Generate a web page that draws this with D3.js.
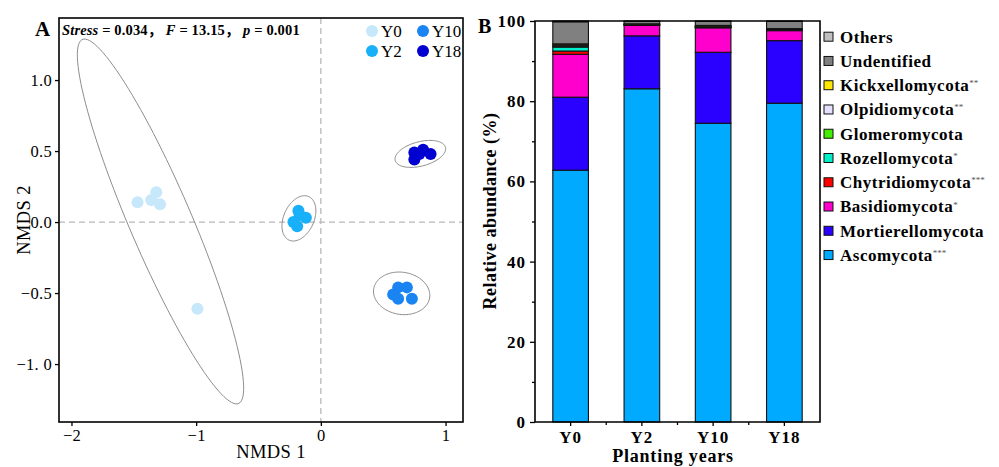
<!DOCTYPE html>
<html>
<head>
<meta charset="utf-8">
<script src="https://cdn.jsdelivr.net/npm/d3@7"></script>
<style>
  body { margin: 0; background: #fff; }
  svg { font-family: "Liberation Serif", "Times New Roman", serif; }
</style>
</head>
<body>
<div id="chart"></div>
<script>
// ---- panel A: NMDS scores ----
var groups = ["Y0", "Y2", "Y10", "Y18"];
var groupColors = ["#c6e8fa", "#18b0f8", "#1a84f2", "#0000d0"];
var nmds1 = {
  "Y0":  [-1.47, -1.36, -1.32, -1.29, -0.99],
  "Y2":  [-0.18, -0.17, -0.12, -0.22, -0.19],
  "Y10": [0.62, 0.69, 0.58, 0.62, 0.73],
  "Y18": [0.75, 0.82, 0.88, 0.75, 0.79]
};
var nmds2 = {
  "Y0":  [0.14, 0.155, 0.21, 0.125, -0.61],
  "Y2":  [0.08, 0.05, 0.03, 0.0, -0.03],
  "Y10": [-0.46, -0.46, -0.51, -0.54, -0.54],
  "Y18": [0.49, 0.51, 0.48, 0.44, 0.48]
};
var xTicksA = [-2, -1, 0, 1];
var yTicksA = [-1.0, -0.5, 0.0, 0.5, 1.0];
var yTickLabelsA = ["\u22121. 0", "\u22120.5", "0.0", "0.5", "1.0"];

// ---- panel B: relative abundance (%) ----
var years = ["Y0", "Y2", "Y10", "Y18"];
var phyla = ["Ascomycota", "Mortierellomycota", "Basidiomycota", "Chytridiomycota",
             "Rozellomycota", "Glomeromycota", "Olpidiomycota", "Kickxellomycota",
             "Undentified", "Others"];
var phylumStars = ["***", "", "*", "***", "*", "", "**", "**", "", ""];
var phylumColors = ["#00aaff", "#2a00ff", "#ff00cc", "#ff0000", "#00eec8",
                    "#44ee00", "#e6e0ff", "#ffe800", "#808080", "#c0c0c0"];
var abundance = {
  "Y0":  [62.8, 18.2, 10.7, 0.8, 1.0, 0.2, 0.3, 0.3, 5.5, 0.2],
  "Y2":  [83.1, 13.2, 2.6, 0.1, 0.1, 0.0, 0.1, 0.1, 0.6, 0.1],
  "Y10": [74.5, 17.7, 6.1, 0.1, 0.1, 0.1, 0.1, 0.2, 1.0, 0.1],
  "Y18": [79.5, 15.6, 2.5, 0.1, 0.1, 0.1, 0.1, 0.1, 1.8, 0.1]
};
var yTicksB = [0, 20, 40, 60, 80, 100];

var W = 999, H = 467;
var svg = d3.select("#chart").append("svg")
    .attr("width", W)
    .attr("height", H);

// ================= panel A =================
var A = {left: 59, right: 463, top: 18, bottom: 422};
var x = d3.scaleLinear().domain([-2.1, 1.14]).range([A.left, A.right]);
var y = d3.scaleLinear().domain([-1.408, 1.437]).range([A.bottom, A.top]);

var gA = svg.append("g");

// zero lines
gA.append("line")
    .attr("x1", x(0)).attr("x2", x(0))
    .attr("y1", A.top).attr("y2", A.bottom)
    .attr("stroke", "#b8b8b8").attr("stroke-width", 1.3)
    .attr("stroke-dasharray", "6,4");
gA.append("line")
    .attr("x1", A.left).attr("x2", A.right)
    .attr("y1", y(0)).attr("y2", y(0))
    .attr("stroke", "#b8b8b8").attr("stroke-width", 1.3)
    .attr("stroke-dasharray", "6,4");

// 95% normal confidence ellipses from the points
function ellipse(xs, ys) {
  var n = xs.length;
  var mx = d3.mean(xs), my = d3.mean(ys);
  var sxx = 0, syy = 0, sxy = 0;
  for (var i = 0; i < n; i++) {
    sxx += (xs[i] - mx) * (xs[i] - mx);
    syy += (ys[i] - my) * (ys[i] - my);
    sxy += (xs[i] - mx) * (ys[i] - my);
  }
  sxx /= n - 1; syy /= n - 1; sxy /= n - 1;
  var tr = sxx + syy, det = sxx * syy - sxy * sxy;
  var disc = Math.sqrt(tr * tr / 4 - det);
  var l1 = tr / 2 + disc, l2 = tr / 2 - disc;
  var v1 = Math.abs(sxy) > 1e-12 ? [sxy, l1 - sxx] : (sxx >= syy ? [1, 0] : [0, 1]);
  var len = Math.hypot(v1[0], v1[1]);
  v1 = [v1[0] / len, v1[1] / len];
  var v2 = [-v1[1], v1[0]];
  var df2 = n - 1;
  var fq = (df2 / 2) * (Math.pow(0.05, -2 / df2) - 1); // F(0.95; 2, n-1)
  var r = Math.sqrt(2 * fq);
  var a = r * Math.sqrt(l1), b = r * Math.sqrt(Math.max(l2, 0));
  return d3.range(0, 120).map(function(k) {
    var t = k / 120 * 2 * Math.PI;
    return [mx + a * Math.cos(t) * v1[0] + b * Math.sin(t) * v2[0],
            my + a * Math.cos(t) * v1[1] + b * Math.sin(t) * v2[1]];
  });
}

var line = d3.line()
    .x(function(d) { return x(d[0]); })
    .y(function(d) { return y(d[1]); })
    .curve(d3.curveLinearClosed);

groups.forEach(function(g, gi) {
  gA.append("path")
      .attr("d", line(ellipse(nmds1[g], nmds2[g])))
      .attr("fill", "none")
      .attr("stroke", "#808080")
      .attr("stroke-width", 0.9);
});

groups.forEach(function(g, gi) {
  gA.selectAll(null)
      .data(nmds1[g].map(function(v, i) { return [v, nmds2[g][i]]; }))
      .enter().append("circle")
      .attr("cx", function(d) { return x(d[0]); })
      .attr("cy", function(d) { return y(d[1]); })
      .attr("r", 6)
      .attr("fill", groupColors[gi]);
});

// frame
gA.append("rect")
    .attr("x", A.left).attr("y", A.top)
    .attr("width", A.right - A.left).attr("height", A.bottom - A.top)
    .attr("fill", "none").attr("stroke", "#000").attr("stroke-width", 1.6);

var axA = gA.append("g")
    .attr("transform", "translate(0," + A.bottom + ")")
    .call(d3.axisBottom(x).tickValues(xTicksA).tickSize(4).tickPadding(3)
      .tickFormat(function(d) { return d < 0 ? "\u2212" + (-d) : d; }));
var ayA = gA.append("g")
    .attr("transform", "translate(" + A.left + ",0)")
    .call(d3.axisLeft(y).tickValues(yTicksA).tickSize(4).tickPadding(3)
      .tickFormat(function(d, i) { return yTickLabelsA[i]; }));
[axA, ayA].forEach(function(ax) {
  ax.select(".domain").remove();
  ax.selectAll("line").attr("stroke", "#000").attr("stroke-width", 1.3);
  ax.selectAll("text").attr("font-family", "Liberation Serif").attr("font-size", 16.5)
    .attr("letter-spacing", 0.3).attr("fill", "#000");
});

gA.append("text")
    .attr("x", 271).attr("y", 458)
    .attr("text-anchor", "middle").attr("font-size", 18.5).attr("letter-spacing", 0.4)
    .text("NMDS 1");
gA.append("text")
    .attr("transform", "translate(30," + ((A.top + A.bottom) / 2) + ") rotate(-90)")
    .attr("text-anchor", "middle").attr("font-size", 18.5).attr("letter-spacing", 0.4)
    .text("NMDS 2");

gA.append("text")
    .attr("x", 35).attr("y", 36)
    .attr("font-size", 21).attr("font-weight", "bold")
    .text("A");

var stat = gA.append("text")
    .attr("x", 62).attr("y", 35)
    .attr("font-size", 14.5).attr("letter-spacing", 0.15).attr("font-weight", "bold");
stat.append("tspan").attr("font-style", "italic").text("Stress");
stat.append("tspan").text(" = 0.034");
stat.append("tspan").attr("font-family", "Noto Sans CJK SC").text("\uFF0C ");
stat.append("tspan").attr("font-style", "italic").text("F");
stat.append("tspan").text(" = 13.15");
stat.append("tspan").attr("font-family", "Noto Sans CJK SC").text("\uFF0C ");
stat.append("tspan").attr("font-style", "italic").text("p");
stat.append("tspan").text(" = 0.001");

// legend A
var legA = gA.selectAll("g.lega")
    .data(groups)
    .enter().append("g")
    .attr("class", "lega")
    .attr("transform", function(d, i) {
      var col = (i === 0 || i === 1) ? 0 : 1;
      var row = (i === 0 || i === 2) ? 0 : 1;
      return "translate(" + (372 + col * 51) + "," + (31 + row * 20) + ")";
    });
legA.append("circle").attr("r", 6)
    .attr("fill", function(d, i) { return groupColors[i]; });
legA.append("text")
    .attr("x", 9).attr("dy", "0.35em")
    .attr("font-size", 17)
    .text(function(d) { return d; });

// ================= panel B =================
var B = {left: 535, right: 820, top: 21, bottom: 422};
var xb = d3.scaleBand().domain(years).range([B.left, B.right])
    .paddingInner(0.5).paddingOuter(0.25);
var yb = d3.scaleLinear().domain([0, 100]).range([B.bottom, B.top]);

var gB = svg.append("g");

var stackData = years.map(function(yr) {
  var o = {year: yr};
  phyla.forEach(function(p, i) { o[p] = abundance[yr][i]; });
  return o;
});
var series = d3.stack().keys(phyla)(stackData);

gB.selectAll("g.series")
    .data(series)
    .enter().append("g")
    .attr("class", "series")
    .attr("fill", function(d, i) { return phylumColors[i]; })
  .selectAll("rect")
    .data(function(d) { return d; })
    .enter().append("rect")
    .attr("x", function(d) { return xb(d.data.year); })
    .attr("width", xb.bandwidth())
    .attr("y", function(d) { return yb(d[1]); })
    .attr("height", function(d) { return yb(d[0]) - yb(d[1]); })
    .attr("stroke", "#111")
    .attr("stroke-width", 1.1);

// frame lines
gB.append("path")
    .attr("d", "M" + B.left + "," + B.top + "H" + B.right + "V" + B.bottom + "H" + B.left + "Z")
    .attr("fill", "none").attr("stroke", "#000").attr("stroke-width", 1.6);

var ayB = gB.append("g")
    .attr("transform", "translate(" + B.left + ",0)")
    .call(d3.axisLeft(yb).tickValues(yTicksB).tickSize(5).tickPadding(4));
gB.append("g")
    .attr("transform", "translate(" + B.left + ",0)")
    .call(d3.axisLeft(yb).tickValues([10, 30, 50, 70, 90]).tickSize(3).tickFormat(""))
    .call(function(g) { g.select(".domain").remove(); g.selectAll("line").attr("stroke-width", 1.3); });
var axB = gB.append("g")
    .attr("transform", "translate(0," + B.bottom + ")")
    .call(d3.axisBottom(xb).tickSize(4).tickPadding(5));
// minor ticks between bars
gB.selectAll("line.minorx")
    .data(years.slice(1))
    .enter().append("line")
    .attr("class", "minorx")
    .attr("x1", function(d) { return xb(d) - xb.step() * xb.paddingInner() / 2; })
    .attr("x2", function(d) { return xb(d) - xb.step() * xb.paddingInner() / 2; })
    .attr("y1", B.bottom).attr("y2", B.bottom + 3)
    .attr("stroke", "#000").attr("stroke-width", 1.3);
[ayB, axB].forEach(function(ax) {
  ax.select(".domain").remove();
  ax.selectAll("line").attr("stroke", "#000").attr("stroke-width", 1.3);
  ax.selectAll("text").attr("font-family", "Liberation Serif").attr("font-size", 17)
    .attr("letter-spacing", 1).attr("font-weight", "bold").attr("fill", "#000");
});

gB.append("text")
    .attr("x", 673).attr("y", 462)
    .attr("text-anchor", "middle").attr("font-size", 18).attr("letter-spacing", 0.8)
    .attr("font-weight", "bold")
    .text("Planting years");
gB.append("text")
    .attr("transform", "translate(496,211) rotate(-90)")
    .attr("text-anchor", "middle").attr("font-size", 18).attr("letter-spacing", 0.5)
    .attr("font-weight", "bold")
    .text("Relative abundance (%)");

gB.append("text")
    .attr("x", 478).attr("y", 33)
    .attr("font-size", 20).attr("font-weight", "bold")
    .text("B");

// legend B (top to bottom: reverse of stack order)
var legOrder = d3.range(phyla.length).reverse();
var legB = gB.selectAll("g.legb")
    .data(legOrder)
    .enter().append("g")
    .attr("class", "legb")
    .attr("transform", function(d, i) { return "translate(824," + (36.7 + i * 24.26) + ")"; });
legB.append("rect")
    .attr("x", 0).attr("y", -4.5)
    .attr("width", 9).attr("height", 9)
    .attr("fill", function(d) { return phylumColors[d]; })
    .attr("stroke", "#111").attr("stroke-width", 1);
var legT = legB.append("text")
    .attr("x", 16).attr("dy", "0.35em")
    .attr("font-size", 17).attr("letter-spacing", 0.5).attr("font-weight", "bold");
legT.append("tspan").text(function(d) { return phyla[d]; });
legT.append("tspan")
    .attr("dy", "-0.55em")
    .attr("font-size", 9).attr("font-weight", "normal").attr("fill", "#555")
    .attr("letter-spacing", 0)
    .text(function(d) { return phylumStars[d]; });
</script>
</body>
</html>
